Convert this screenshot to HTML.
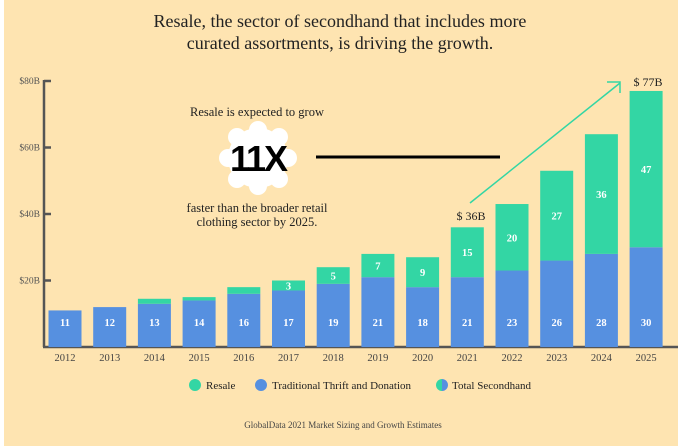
<!DOCTYPE html>
<html><head><meta charset="utf-8"><style>
body{margin:0;width:678px;height:446px;background:#fff;overflow:hidden}
svg{display:block}
text{font-family:"Liberation Serif",serif}
</style></head><body>
<svg width="678" height="446">
<rect x="4" y="0" width="674" height="446" fill="#FEE4B1"/>
<text x="340" y="27" text-anchor="middle" font-size="18" fill="#222">Resale, the sector of secondhand that includes more</text>
<text x="340" y="49" text-anchor="middle" font-size="18" fill="#222">curated assortments, is driving the growth.</text>
<g id="axes"></g>
<g id="bars"></g>
<g>
<text x="257" y="116" text-anchor="middle" font-size="12.5" fill="#222">Resale is expected to grow</text>
<g fill="#fff">
<circle cx="258" cy="158" r="30"/>
<circle cx="258" cy="130" r="9"/><circle cx="258" cy="186" r="9"/>
<circle cx="228" cy="158" r="9"/><circle cx="288" cy="158" r="9"/>
<circle cx="237" cy="137" r="9"/><circle cx="279" cy="137" r="9"/>
<circle cx="237" cy="179" r="9"/><circle cx="279" cy="179" r="9"/>
</g>
<text x="258" y="171" text-anchor="middle" font-size="36" font-weight="bold" style="font-family:'Liberation Sans',sans-serif" fill="#000" letter-spacing="-2">11X</text>
<line x1="316" y1="157" x2="500" y2="157" stroke="#000" stroke-width="3"/>
<text x="257" y="212" text-anchor="middle" font-size="12.5" fill="#222">faster than the broader retail</text>
<text x="257" y="226" text-anchor="middle" font-size="12.5" fill="#222">clothing sector by 2025.</text>
</g>
<g stroke="#33D6A4" stroke-width="1.5" fill="none">
<line x1="470" y1="203" x2="620" y2="83"/>
<polyline points="607,82 620,82 620,93"/>
</g>
<text x="471" y="220" text-anchor="middle" font-size="12" fill="#222">$ 36B</text>
<text x="648" y="86" text-anchor="middle" font-size="12" fill="#222">$ 77B</text>
<g font-size="11">
<circle cx="195" cy="385" r="6" fill="#33D6A4"/>
<text x="206" y="389" fill="#222">Resale</text>
<circle cx="261" cy="385" r="6" fill="#5690E0"/>
<text x="272" y="389" fill="#222">Traditional Thrift and Donation</text>
<path d="M442,379 A6,6 0 0 0 442,391 Z" fill="#33D6A4"/><path d="M442,379 A6,6 0 0 1 442,391 Z" fill="#5690E0"/>
<text x="452" y="389" fill="#222">Total Secondhand</text>
</g>
<text x="343" y="428" text-anchor="middle" font-size="9" fill="#444">GlobalData 2021 Market Sizing and Growth Estimates</text>
</svg>
<script>
const years=['2012','2013','2014','2015','2016','2017','2018','2019','2020','2021','2022','2023','2024','2025'];
const thrift=[11,12,13,14,16,17,19,21,18,21,23,26,28,30];
const resale=[0,0,1.5,1,2,3,5,7,9,15,20,27,36,47];
const resaleLabels=['','','','','','3','5','7','9','15','20','27','36','47'];
const yTicks=[20,40,60,80];
const yTickLabels=['$20B','$40B','$60B','$80B'];
const NS='http://www.w3.org/2000/svg';
const y0=347,pxPer=3.325;
function y(v){return y0-v*pxPer;}
function xc(i){return 65+i*44.7;}
function mk(tag,attrs,parent,txt){const e=document.createElementNS(NS,tag);for(const k in attrs)e.setAttribute(k,attrs[k]);if(txt!==undefined)e.textContent=txt;parent.appendChild(e);return e;}
const ax=document.getElementById('axes');
const ya=mk('line',{x1:44,y1:80,x2:44,y2:y0,stroke:'#555','stroke-width':2.5},ax);


const xa=mk('line',{x1:43,y1:y0,x2:678,y2:y0,stroke:'#555','stroke-width':2.5},ax);


yTicks.forEach((t,i)=>{
 mk('line',{x1:44,y1:y(t),x2:51,y2:y(t),stroke:'#555','stroke-width':2.5},ax);
 const tl=mk('text',{x:40,y:y(t)+3,'text-anchor':'end','font-size':9.5,fill:'#555'},ax,yTickLabels[i]);
 
 
});
const bg=document.getElementById('bars');
years.forEach((yr,i)=>{
 const x=xc(i)-16.5,w=33;
 const b=mk('rect',{x:x,y:y(thrift[i]),width:w,height:thrift[i]*pxPer,fill:'#5690E0'},bg);
 
 
 if(resale[i]>0){
  const r=mk('rect',{x:x,y:y(thrift[i]+resale[i]),width:w,height:resale[i]*pxPer,fill:'#33D6A4'},bg);
  
  
  if(resaleLabels[i]){
   const rl=mk('text',{x:xc(i),y:y(thrift[i]+resale[i]/2)+4,'text-anchor':'middle','font-size':10.5,'font-weight':'bold',fill:'#fff'},bg,resaleLabels[i]);
   
   
  }
 }
 const tl=mk('text',{x:xc(i),y:326,'text-anchor':'middle','font-size':10.5,'font-weight':'bold',fill:'#fff'},bg,String(thrift[i]));
 
 
 const xl=mk('text',{x:xc(i),y:361,'text-anchor':'middle','font-size':10.5,fill:'#444'},bg,yr);
 
 
});
</script>
</body></html>
